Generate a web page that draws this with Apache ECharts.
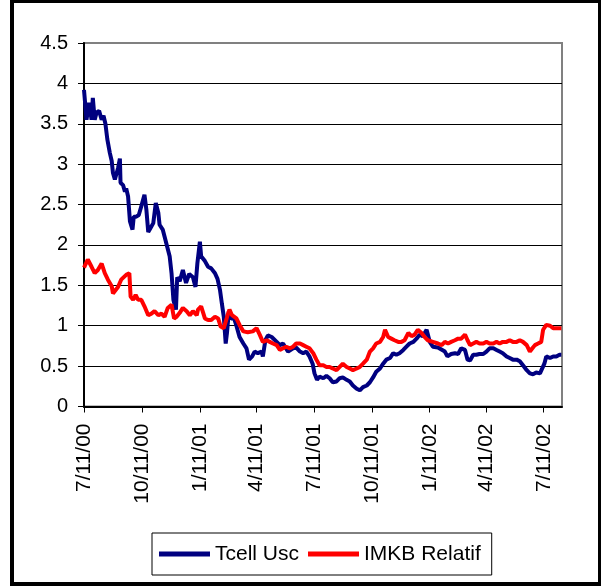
<!DOCTYPE html>
<html>
<head>
<meta charset="utf-8">
<title>Tcell Usc / IMKB Relatif</title>
<script src="https://cdn.jsdelivr.net/npm/echarts@6/dist/echarts.min.js"></script>
<style>
  html, body { margin: 0; padding: 0; background: #fff; }
  #chart { width: 601px; height: 587px; }
</style>
</head>
<body>
<div id="chart"></div>
<script>
// x values are days counted from the first date, 7/11/00
var startDate = '2000-07-11';
var lastDay = 759;

var tickDates = ['2000-07-11', '2000-10-11', '2001-01-11', '2001-04-11', '2001-07-11',
                 '2001-10-11', '2002-01-11', '2002-04-11', '2002-07-11'];
var tickLabels = ['7/11/00', '10/11/00', '1/11/01', '4/11/01', '7/11/01',
                  '10/11/01', '1/11/02', '4/11/02', '7/11/02'];

var seriesNames = ['Tcell Usc', 'IMKB Relatif'];

var tcellDays = [0, 4, 8, 12, 14, 17, 20, 24, 28, 31, 34, 37, 41, 44, 46, 49, 51, 54, 57, 58,
  62, 65, 67, 70, 73, 77, 79, 83, 87, 91, 96, 99, 102, 105, 110, 114, 118, 120, 125, 128,
  132, 136, 139, 142, 146, 148, 152, 157, 162, 167, 173, 177, 180, 184, 186, 192, 197, 202, 208, 212,
  216, 219, 222, 225, 227, 230, 233, 238, 242, 247, 253, 258, 262, 267, 271, 276, 282, 284, 288, 292,
  298, 306, 311, 316, 324, 332, 337, 343, 348, 353, 358, 363, 366, 370, 374, 380, 385, 390, 395, 401,
  406, 411, 417, 422, 427, 433, 438, 443, 449, 454, 459, 464, 470, 475, 480, 486, 491, 496, 501, 507,
  512, 517, 523, 528, 533, 538, 544, 549, 554, 562, 565, 573, 577, 583, 589, 594, 599, 605, 609, 613,
  618, 623, 628, 634, 639, 644, 650, 655, 660, 665, 671, 676, 681, 687, 692, 697, 703, 708, 713, 718,
  724, 727, 731, 734, 740, 745, 750, 755, 758];
var tcellValues = [3.92, 3.55, 3.76, 3.55, 3.82, 3.55, 3.64, 3.66, 3.55, 3.6, 3.5, 3.31, 3.14, 3.04, 2.89, 2.81, 2.82, 2.95, 3.07, 2.77,
  2.74, 2.66, 2.7, 2.6, 2.29, 2.19, 2.35, 2.35, 2.37, 2.48, 2.62, 2.44, 2.16, 2.2, 2.27, 2.52, 2.4, 2.25, 2.19, 2.1,
  1.98, 1.86, 1.65, 1.32, 1.2, 1.6, 1.55, 1.69, 1.53, 1.64, 1.6, 1.48, 1.77, 2.04, 1.86, 1.8, 1.73, 1.71, 1.65, 1.58,
  1.44, 1.27, 1.11, 0.78, 0.91, 1.18, 1.09, 1.1, 1.0, 0.86, 0.78, 0.72, 0.58, 0.62, 0.68, 0.66, 0.68, 0.62, 0.82, 0.88,
  0.86, 0.8, 0.76, 0.78, 0.68, 0.72, 0.73, 0.68, 0.66, 0.68, 0.62, 0.53, 0.41, 0.33, 0.37, 0.35, 0.38, 0.35, 0.3, 0.31,
  0.35, 0.36, 0.33, 0.31, 0.26, 0.22, 0.2, 0.24, 0.26, 0.3, 0.36, 0.43, 0.47, 0.53, 0.58, 0.6, 0.66, 0.64, 0.66, 0.7,
  0.74, 0.78, 0.8, 0.84, 0.89, 0.87, 0.95, 0.8, 0.74, 0.73, 0.73, 0.68, 0.62, 0.65, 0.66, 0.65, 0.72, 0.7, 0.58, 0.57,
  0.64, 0.64, 0.65, 0.65, 0.68, 0.72, 0.72, 0.7, 0.68, 0.66, 0.62, 0.6, 0.58, 0.58, 0.56, 0.51, 0.45, 0.41, 0.4, 0.42,
  0.41, 0.41, 0.53, 0.62, 0.6, 0.62, 0.62, 0.64, 0.64];

var imkbDays = [0, 6, 12, 17, 22, 28, 33, 38, 44, 46, 50, 54, 59, 67, 72, 74, 78, 82, 86, 91,
  96, 102, 107, 112, 118, 123, 128, 133, 139, 143, 147, 152, 157, 163, 168, 173, 179, 181, 186, 192,
  197, 202, 208, 213, 217, 222, 228, 231, 235, 242, 247, 253, 260, 268, 274, 279, 284, 290, 295, 300,
  306, 311, 316, 321, 327, 332, 337, 343, 348, 353, 358, 364, 369, 374, 380, 385, 390, 395, 401, 406,
  411, 417, 422, 427, 433, 438, 443, 449, 454, 459, 464, 470, 475, 478, 483, 488, 493, 499, 504, 509,
  515, 520, 525, 530, 536, 541, 546, 554, 557, 562, 568, 573, 578, 583, 589, 594, 599, 605, 609, 613,
  618, 623, 628, 634, 639, 644, 650, 655, 660, 665, 671, 676, 681, 687, 692, 697, 703, 708, 712, 716,
  721, 726, 729, 734, 740, 745, 750, 758];
var imkbValues = [1.72, 1.82, 1.73, 1.65, 1.69, 1.77, 1.65, 1.57, 1.49, 1.4, 1.44, 1.48, 1.57, 1.63, 1.65, 1.36, 1.32, 1.38, 1.32, 1.32,
  1.24, 1.13, 1.15, 1.18, 1.13, 1.15, 1.11, 1.22, 1.26, 1.09, 1.11, 1.16, 1.22, 1.18, 1.13, 1.18, 1.13, 1.2, 1.24, 1.09,
  1.07, 1.07, 1.11, 1.09, 0.99, 0.97, 1.13, 1.2, 1.13, 1.09, 1.01, 0.93, 0.92, 0.93, 0.97, 0.89, 0.8, 0.82, 0.8, 0.78,
  0.76, 0.7, 0.72, 0.74, 0.72, 0.74, 0.78, 0.78, 0.76, 0.74, 0.72, 0.66, 0.58, 0.51, 0.51, 0.49, 0.49, 0.47, 0.45, 0.49,
  0.53, 0.49, 0.47, 0.45, 0.47, 0.49, 0.53, 0.58, 0.68, 0.72, 0.78, 0.8, 0.86, 0.95, 0.86, 0.84, 0.82, 0.8, 0.8, 0.82,
  0.91, 0.87, 0.89, 0.95, 0.91, 0.86, 0.82, 0.8, 0.8, 0.78, 0.76, 0.8, 0.78, 0.8, 0.82, 0.84, 0.84, 0.89, 0.82, 0.76,
  0.78, 0.8, 0.78, 0.78, 0.8, 0.78, 0.78, 0.8, 0.78, 0.8, 0.8, 0.82, 0.8, 0.8, 0.82, 0.8, 0.76, 0.68, 0.72, 0.76,
  0.78, 0.8, 0.95, 1.01, 1.0, 0.97, 0.97, 0.97];

var DAY = 86400000;
var t0 = new Date(startDate).getTime();
var tickValues = tickDates.map(function (d) { return new Date(d).getTime(); });

function toPoints(days, values) {
  return days.map(function (d, i) { return [t0 + d * DAY, values[i]]; });
}

var font = "'Liberation Sans', Arial, sans-serif";
var chart = echarts.init(document.getElementById('chart'));

chart.setOption({
  animation: false,
  backgroundColor: '#fff',
  textStyle: { fontFamily: font, color: '#000' },
  grid: {
    left: 84, top: 43, width: 478, height: 363.5,
    show: true, borderColor: '#808080', borderWidth: 2
  },
  graphic: [{
    type: 'rect',
    shape: { x: 12, y: 1, width: 588, height: 583 },
    style: { fill: 'none', stroke: '#000', lineWidth: 4 },
    silent: true
  }],
  legend: {
    data: seriesNames,
    left: 152, top: 533,
    padding: [10, 11, 10, 7],
    borderColor: '#000', borderWidth: 1,
    itemGap: 9, itemWidth: 51, itemHeight: 5,
    icon: 'rect',
    textStyle: { fontSize: 21, color: '#000', fontFamily: font, lineHeight: 22 }
  },
  xAxis: {
    type: 'value',
    min: t0,
    max: t0 + lastDay * DAY,
    axisLine: { lineStyle: { color: '#000', width: 2 } },
    axisTick: { customValues: tickValues, length: 6, lineStyle: { color: '#000', width: 1 } },
    axisLabel: {
      customValues: tickValues,
      rotate: 90,
      margin: 17,
      fontSize: 21,
      color: '#000',
      fontFamily: font,
      formatter: function (v) {
        var i = tickValues.indexOf(v);
        return i >= 0 ? tickLabels[i] : '';
      }
    },
    splitLine: { show: false }
  },
  yAxis: {
    type: 'value',
    min: 0, max: 4.5, interval: 0.5,
    axisLine: { show: true, lineStyle: { color: '#000', width: 2 } },
    axisTick: { show: true, length: 6, lineStyle: { color: '#000', width: 1 } },
    axisLabel: { margin: 16, fontSize: 20, color: '#000', fontFamily: font },
    splitLine: { show: true, showMaxLine: false, lineStyle: { color: '#000', width: 1 } }
  },
  series: [
    {
      name: seriesNames[0],
      type: 'line',
      data: toPoints(tcellDays, tcellValues),
      showSymbol: false,
      color: '#000080',
      lineStyle: { width: 4, color: '#000080' }
    },
    {
      name: seriesNames[1],
      type: 'line',
      data: toPoints(imkbDays, imkbValues),
      showSymbol: false,
      color: '#ff0000',
      lineStyle: { width: 4, color: '#ff0000' }
    }
  ]
});
</script>
</body>
</html>
